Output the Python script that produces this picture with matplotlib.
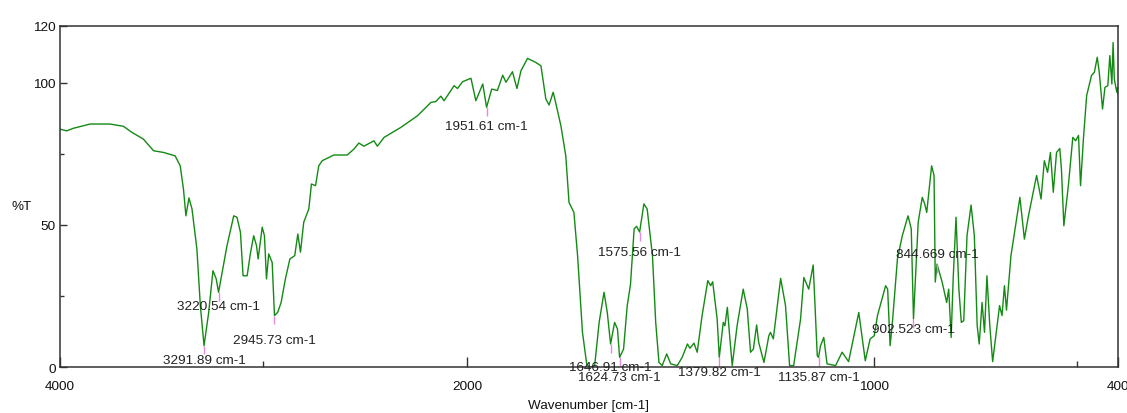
import matplotlib

matplotlib.use("Agg")
import matplotlib.pyplot as plt
import numpy as np
from matplotlib.ticker import FixedLocator, NullFormatter

plt.rcParams["font.family"] = ["Liberation Sans", "DejaVu Sans"]

# 4000-2000 cm-1 region
wn_high = [4000, 3967, 3934, 3852, 3754, 3688, 3647, 3590, 3540, 3491, 3434, 3409,
           3393, 3381, 3366, 3351, 3327, 3310, 3291.89, 3269, 3248, 3232, 3220.54,
           3203, 3179, 3146, 3130, 3113, 3100, 3080, 3064, 3048, 3034, 3026, 3006,
           2995, 2985, 2974, 2957, 2945.73, 2930, 2913, 2892, 2870, 2846, 2831, 2818,
           2802, 2777, 2764, 2744, 2728, 2711, 2654, 2588, 2555, 2531, 2506, 2457,
           2440, 2407, 2325, 2243, 2177, 2153, 2128, 2112, 2063, 2046, 2021]
t_high = [83.7, 83.1, 84.0, 85.5, 85.5, 84.7, 82.6, 80.2, 76.1, 75.5, 74.3, 70.8,
          62.6, 53.2, 59.5, 55.6, 41.5, 21.6, 7.5, 19.2, 33.9, 31.0, 26.3,
          33.3, 42.7, 53.2, 52.7, 47.4, 32.1, 32.1, 40.0, 46.2, 42.7, 38.0, 49.2,
          46.2, 31.0, 39.8, 36.8, 18.1, 19.2, 22.7, 31.0, 38.0, 39.2, 46.8, 40.4,
          50.9, 55.6, 64.4, 63.8, 70.8, 72.6, 74.6, 74.6, 76.7, 78.8, 77.7, 79.6,
          77.7, 80.8, 84.3, 88.4, 93.1, 93.4, 95.3, 93.7, 99.0, 98.0, 100.4]

# 2000-1000 cm-1 region
wn_mid = [1990, 1978, 1961, 1951.61, 1939, 1925, 1912, 1904, 1888, 1877, 1867, 1851,
          1831, 1818, 1806, 1798, 1788, 1782, 1769, 1757, 1749, 1737, 1728, 1716,
          1705, 1696, 1686, 1675, 1663, 1655, 1646.91, 1637, 1630, 1624.73, 1615,
          1606, 1598, 1589, 1583, 1575.56, 1565, 1557, 1544, 1536, 1528, 1520, 1509,
          1499, 1483, 1471, 1458, 1452, 1442, 1434, 1422, 1408, 1401, 1396, 1385,
          1379.82, 1370, 1366, 1360, 1355, 1348, 1336, 1321, 1311, 1303, 1296, 1288,
          1283, 1270, 1258, 1254, 1247, 1229, 1217, 1207, 1197, 1180, 1172, 1160,
          1149, 1139, 1135.87, 1131, 1123, 1115, 1094, 1078, 1062, 1037, 1021, 1009]
t_mid = [101.6, 93.7, 99.6, 91.4, 97.8, 97.3, 102.7, 100.2, 103.9, 98.0, 104.3, 108.6,
         107.2, 106.0, 94.3, 92.2, 96.7, 93.1, 84.9, 74.3, 57.9, 54.4, 39.2, 12.2,
         0.5, 0.0, 0.5, 15.7, 26.3, 19.2, 8.1, 15.7, 13.4, 3.4, 6.3,
         21.6, 29.0, 48.6, 49.5, 47.5, 57.4, 55.6, 39.2, 15.7, 1.6, 0.5, 4.6,
         1.1, 0.5, 3.4, 8.1, 6.6, 8.4, 5.2, 18.1, 30.4, 28.6, 30.0, 16.9,
         3.4, 15.7, 14.5, 21.0, 12.2, 0.5, 14.5, 27.4, 20.4, 5.2, 6.3, 14.8,
         8.7, 1.6, 11.0, 12.2, 9.9, 31.2, 21.6, 0.5, 0.5, 16.9, 31.5, 27.4,
         35.9, 4.0, 3.4, 7.5, 10.4, 1.1, 0.5, 5.2, 1.9, 19.2, 2.2, 9.9]

# 1000-400 cm-1 region
wn_low = [999, 991, 971, 966, 960, 954, 942, 930, 916, 908, 902.523, 891, 881, 875,
          870, 858, 852, 849, 844.669, 832, 821, 816, 810, 805, 798, 791, 785, 779,
          771, 761, 753, 746, 741, 734, 728, 722, 715, 708, 697, 691, 685, 679, 674,
          663, 641, 630, 620, 600, 589, 581, 573, 566, 559, 551, 543, 539, 533, 522,
          511, 504, 497, 492, 485, 477, 465, 458, 451, 446, 438, 432, 425, 420, 415,
          412, 409, 403, 401, 400]
t_low = [11.0, 18.1, 28.6, 27.4, 7.5, 16.3, 38.0, 46.2, 53.2, 48.6, 16.9, 50.9, 59.7, 57.4,
         54.4, 70.8, 67.4, 29.9, 36.2, 29.8, 22.7, 27.4, 10.4, 31.0, 52.7, 27.4, 15.7, 16.3,
         46.2, 57.0, 46.2, 14.5, 8.1, 22.7, 12.2, 32.1, 14.5, 1.9, 14.5, 21.6, 18.1, 28.6, 20.0,
         39.2, 59.7, 45.0, 53.2, 67.4, 59.1, 72.6, 68.5, 75.5, 61.5, 75.5, 76.9, 69.7, 49.7, 63.8,
         80.8, 79.6, 81.5, 63.8, 80.2, 95.5, 102.6, 103.7, 109.0, 103.7, 90.8, 98.4, 99.0, 109.6, 99.6,
         114.2, 101.3, 96.7, 98.4, 96.1]

# picked peaks
peak_wn = [3291.89, 3220.54, 2945.73, 1951.61, 1575.56, 1646.91, 1624.73,
           1379.82, 1135.87, 902.523, 844.669]
peak_text = ["3291.89 cm-1", "3220.54 cm-1", "2945.73 cm-1", "1951.61 cm-1",
             "1575.56 cm-1", "1646.91 cm-1", "1624.73 cm-1", "1379.82 cm-1",
             "1135.87 cm-1", "902.523 cm-1", "844.669 cm-1"]
label_y = [2.5, 21.5, 9.5, 84.9, 40.5, 0.1, -3.5, -1.7, -3.5, 13.4, 39.8]

wn = np.array(wn_high + wn_mid + wn_low)
t = np.array(t_high + t_mid + t_low)


# below 2000 cm-1 the axis is stretched by a factor of two
def forward(x):
    x = np.asarray(x, dtype=float)
    return np.where(x >= 2000, x, 2 * x - 2000)


def inverse(y):
    y = np.asarray(y, dtype=float)
    return np.where(y >= 2000, y, (y + 2000) / 2)


fig = plt.figure(figsize=(11.27, 4.14), dpi=100)
ax = fig.add_axes([0.0532, 0.1111, 0.9388, 0.8237])
ax.set_xscale("function", functions=(forward, inverse))

ax.plot(wn, t, color="#138a13", lw=1.0)

order = np.argsort(wn)
for x, txt, ly in zip(peak_wn, peak_text, label_y):
    y = np.interp(x, wn[order], t[order])
    ax.vlines(x, y - 3.0, y, color="#e08ae0", lw=1.0)
    ax.text(x, ly, txt, ha="center", va="center", fontsize=9.7, color="#222222")

ax.set_xlim(4000, 400)
ax.set_ylim(0, 120)

ax.xaxis.set_major_locator(FixedLocator([4000, 2000, 1000, 400]))
ax.xaxis.set_minor_locator(FixedLocator([3000, 500]))
ax.xaxis.set_minor_formatter(NullFormatter())
ax.yaxis.set_major_locator(FixedLocator([0, 50, 100, 120]))
ax.yaxis.set_minor_locator(FixedLocator([25, 75]))
ax.yaxis.set_minor_formatter(NullFormatter())

ax.tick_params(axis="x", which="major", direction="in", length=7, width=1,
               pad=9, labelsize=9.7, colors="#333333", labelcolor="#111111")
ax.tick_params(axis="x", which="minor", direction="in", length=4.3, width=1,
               colors="#333333")
ax.tick_params(axis="y", which="major", direction="in", length=5, width=1,
               pad=3, labelsize=9.7, colors="#333333", labelcolor="#111111")
ax.tick_params(axis="y", which="minor", direction="in", length=2.8, width=1,
               colors="#333333")

for side in ax.spines.values():
    side.set_color("#333333")
    side.set_linewidth(1.1)

ax.set_xlabel("Wavenumber [cm-1]", fontsize=9.7, color="#111111")
ax.xaxis.set_label_coords(0.5, -0.095)
ax.set_ylabel("%T", rotation=0, fontsize=9.7, color="#111111", va="center", ha="center")
ax.yaxis.set_label_coords(-0.036, 0.472)

fig.savefig("out.png", dpi=100)
